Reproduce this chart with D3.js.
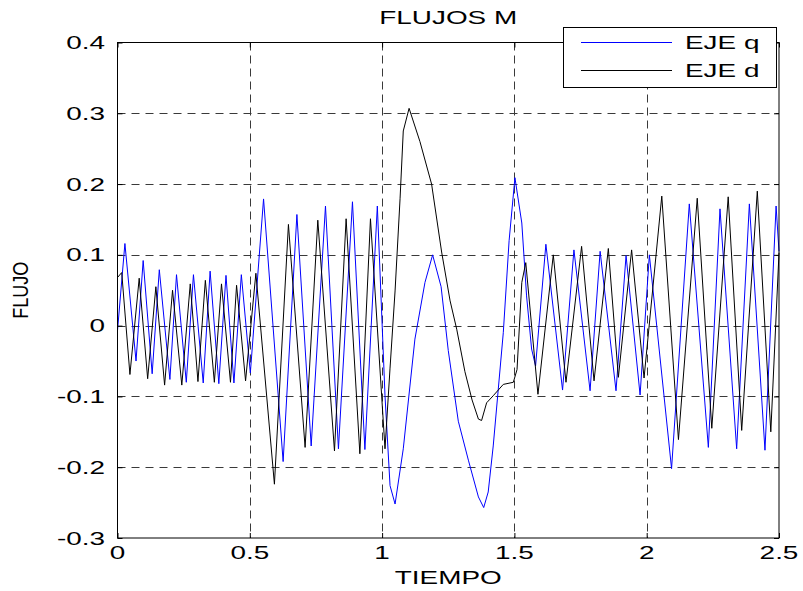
<!DOCTYPE html>
<html>
<head>
<meta charset="utf-8">
<script src="https://cdn.jsdelivr.net/npm/d3@7"></script>
<style>
  html, body { margin: 0; padding: 0; background: #fff; }
  svg { display: block; font-family: "Liberation Sans", Arial, sans-serif; }
</style>
</head>
<body>
<svg id="chart" width="803" height="591"></svg>
<script>
// Flux components of the machine, q and d axes, versus time (s)
const qTime = [0.000, 0.028, 0.070, 0.097, 0.131, 0.158, 0.198, 0.223, 0.260, 0.287,
  0.324, 0.350, 0.383, 0.410, 0.440, 0.468, 0.502, 0.552, 0.626, 0.678,
  0.732, 0.786, 0.835, 0.888, 0.935, 0.982, 1.011, 1.030, 1.049, 1.080,
  1.124, 1.162, 1.191, 1.223, 1.250, 1.288, 1.326, 1.364, 1.384, 1.401,
  1.420, 1.458, 1.480, 1.502, 1.528, 1.546, 1.565, 1.580, 1.619, 1.682,
  1.725, 1.786, 1.824, 1.884, 1.922, 1.975, 2.010, 2.094, 2.161, 2.233,
  2.277, 2.340, 2.388, 2.447, 2.489, 2.500];
const qFlux = [-0.007, 0.116, -0.050, 0.092, -0.068, 0.079, -0.076, 0.072, -0.080, 0.072,
  -0.081, 0.077, -0.082, 0.071, -0.081, 0.072, -0.067, 0.179, -0.192, 0.157,
  -0.170, 0.169, -0.174, 0.175, -0.175, 0.169, -0.099, -0.226, -0.252, -0.174,
  -0.019, 0.061, 0.100, 0.055, -0.035, -0.135, -0.190, -0.242, -0.257, -0.235,
  -0.170, -0.010, 0.120, 0.209, 0.145, 0.042, -0.033, -0.057, 0.115, -0.091,
  0.107, -0.092, 0.105, -0.092, 0.099, -0.098, 0.100, -0.202, 0.172, -0.172,
  0.165, -0.174, 0.172, -0.176, 0.169, 0.105];

const dTime = [0.000, 0.016, 0.047, 0.082, 0.114, 0.145, 0.178, 0.208, 0.243, 0.275,
  0.304, 0.332, 0.366, 0.393, 0.427, 0.450, 0.484, 0.523, 0.593, 0.646,
  0.709, 0.757, 0.820, 0.864, 0.916, 0.956, 1.011, 1.030, 1.049, 1.068,
  1.080, 1.102, 1.143, 1.187, 1.225, 1.257, 1.282, 1.313, 1.340, 1.364,
  1.376, 1.395, 1.420, 1.458, 1.496, 1.510, 1.528, 1.543, 1.589, 1.647,
  1.695, 1.754, 1.801, 1.855, 1.893, 1.943, 1.990, 2.057, 2.120, 2.191,
  2.246, 2.308, 2.359, 2.418, 2.469, 2.500];
const dFlux = [0.068, 0.075, -0.069, 0.067, -0.075, 0.055, -0.084, 0.050, -0.084, 0.059,
  -0.079, 0.064, -0.080, 0.059, -0.080, 0.057, -0.078, 0.074, -0.224, 0.143,
  -0.172, 0.149, -0.177, 0.151, -0.181, 0.151, -0.174, -0.060, 0.049, 0.180,
  0.275, 0.307, 0.260, 0.200, 0.104, 0.035, -0.005, -0.065, -0.105, -0.132,
  -0.134, -0.109, -0.099, -0.083, -0.080, -0.062, 0.061, 0.089, -0.097, 0.100,
  -0.080, 0.112, -0.078, 0.109, -0.073, 0.107, -0.074, 0.183, -0.161, 0.180,
  -0.145, 0.182, -0.148, 0.190, -0.150, 0.103];

const xTicks = [0, 0.5, 1, 1.5, 2, 2.5];
const yTicks = [-0.3, -0.2, -0.1, 0, 0.1, 0.2, 0.3, 0.4];
const seriesNames = ["EJE q", "EJE d"];
const seriesColors = ["#0000ff", "#000000"];

const svg = d3.select("#chart");
const plotLeft = 117.5, plotRight = 779, plotTop = 42.5, plotBottom = 538;
const fontSize = 18, stretch = 1.55;   // wide lettering of the figure export
const fmt = v => d3.format("~g")(v).replace("\u2212", "-");

const x = d3.scaleLinear().domain([0, 2.5]).range([plotLeft, plotRight]);
const y = d3.scaleLinear().domain([-0.3, 0.4]).range([plotBottom, plotTop]);

// horizontally widened text anchored at (px, py)
function wideText(parent, px, py, str, anchor, size) {
  return parent.append("text")
    .attr("transform", `translate(${px},${py}) scale(${stretch},1)`)
    .attr("text-anchor", anchor).attr("font-size", size || fontSize)
    .attr("fill", "#000").text(str);
}

// dashed grid
const grid = svg.append("g").attr("stroke", "#3a3a3a").attr("stroke-width", 1);
xTicks.slice(1, -1).forEach(t => {
  const px = Math.round(x(t)) + 0.5;
  grid.append("line").attr("x1", px).attr("x2", px).attr("y1", plotTop).attr("y2", plotBottom)
    .attr("stroke-dasharray", "8,5");
});
yTicks.slice(1, -1).forEach(t => {
  const py = Math.round(y(t)) + 0.5;
  grid.append("line").attr("x1", plotLeft).attr("x2", plotRight).attr("y1", py).attr("y2", py)
    .attr("stroke-dasharray", "8,6");
});

// signals
const line = d3.line().x(d => x(d[0])).y(d => y(d[1])).curve(d3.curveLinear);
const qData = qTime.map((t, i) => [t, qFlux[i]]);
const dData = dTime.map((t, i) => [t, dFlux[i]]);
svg.append("path").datum(qData).attr("d", line).attr("fill", "none")
  .attr("stroke", seriesColors[0]).attr("stroke-width", 1);
svg.append("path").datum(dData).attr("d", line).attr("fill", "none")
  .attr("stroke", seriesColors[1]).attr("stroke-width", 1);

// inward ticks on all four sides
const tickSpecs = [
  [d3.axisBottom(x).tickValues(xTicks), `translate(0,${plotBottom})`],
  [d3.axisTop(x).tickValues(xTicks), `translate(0,${plotTop})`],
  [d3.axisLeft(y).tickValues(yTicks), `translate(${plotLeft},0)`],
  [d3.axisRight(y).tickValues(yTicks), `translate(${plotRight},0)`]
];
tickSpecs.forEach(([ax, tr]) => {
  const g = svg.append("g").attr("transform", tr).call(ax.tickSize(-5).tickFormat(""));
  g.select(".domain").remove();
  g.selectAll("line").attr("stroke", "#000");
});

// tick labels
const labels = svg.append("g");
xTicks.forEach(t => wideText(labels, x(t), 559, fmt(t), "middle"));
yTicks.forEach(t => wideText(labels, 105, y(t) + 6.5, fmt(t), "end"));

// axes box
svg.append("rect").attr("x", plotLeft).attr("y", plotTop).attr("width", plotRight - plotLeft)
  .attr("height", plotBottom - plotTop).attr("fill", "none").attr("stroke", "#000").attr("stroke-width", 1);

// title and axis labels
wideText(svg, (plotLeft + plotRight) / 2, 24, "FLUJOS M", "middle");
wideText(svg, (plotLeft + plotRight) / 2, 584, "TIEMPO", "middle");
svg.append("text")
  .attr("transform", `translate(28,${(plotTop + plotBottom) / 2}) rotate(-90) scale(1,1.2)`)
  .attr("text-anchor", "middle").attr("font-size", fontSize).attr("fill", "#000").text("FLUJO");

// legend
const lg = svg.append("g");
lg.append("rect").attr("x", 563.5).attr("y", 27.5).attr("width", 213).attr("height", 60)
  .attr("fill", "#fff").attr("stroke", "#000").attr("stroke-width", 1);
seriesNames.forEach((name, i) => {
  const ly = 42.5 + i * 28;
  lg.append("line").attr("x1", 581).attr("x2", 672).attr("y1", ly).attr("y2", ly)
    .attr("stroke", seriesColors[i]).attr("stroke-width", 1);
  wideText(lg, 685, ly + 6.5, name, "start");
});
</script>
</body>
</html>
